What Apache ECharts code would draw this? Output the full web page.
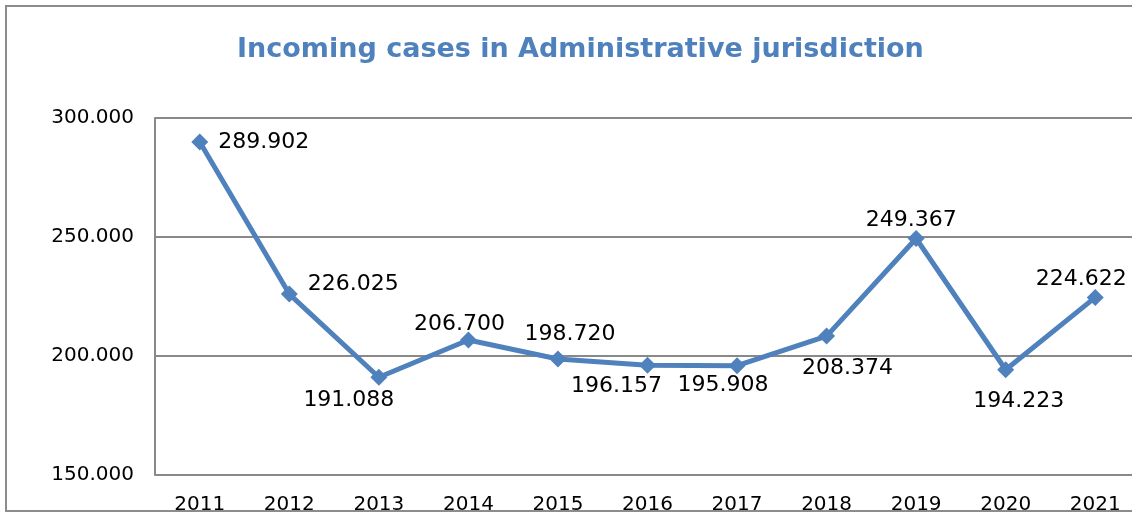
<!DOCTYPE html>
<html>
<head>
    <title>Incoming cases in Administrative jurisdiction</title>
    <script src="https://cdn.jsdelivr.net/npm/echarts@6.0.0/dist/echarts.min.js"></script>
    <style>
        html, body { margin: 0; padding: 0; background: #fff; }
    </style>
</head>
<body>
    <div id="chart" style="width: 1132px; height: 513px;"></div>
    <script>
        // data
        var years = ['2011', '2012', '2013', '2014', '2015', '2016', '2017', '2018', '2019', '2020', '2021'];
        var cases = [289902, 226025, 191088, 206700, 198720, 196157, 195908, 208374, 249367, 194223, 224622];
        // where each value label sits relative to its marker
        var labelPos = ['right', 'right', 'bottom', 'top', 'top', 'bottom', 'bottom', 'bottom', 'top', 'bottom', 'top'];
        var labelOffset = [[10, 0], [10, -10], [-30, -7], [-9, 15], [12, 6], [-31, -9], [-14, -11], [21, 2], [-5, 12], [13, 1], [-14, 12]];

        var blue = '#4F81BD';

        // 289902 -> "289.902"
        function fmt(v) {
            return String(v).replace(/\B(?=(\d{3})+(?!\d))/g, '.');
        }

        var chart = echarts.init(document.querySelector('#chart'));

        var option = {
          animation: false,
          textStyle: { fontFamily: 'DejaVu Sans' },
          title: {
            text: 'Incoming cases in Administrative jurisdiction',
            left: 232,
            top: 16,
            textStyle: { color: blue, fontSize: 27, fontWeight: 'bold', fontFamily: 'DejaVu Sans' }
          },
          graphic: [{
            type: 'rect',
            shape: { x: 6, y: 6, width: 1140, height: 505 },
            style: { fill: 'none', stroke: '#8c8c8c', lineWidth: 2 },
            z: -1
          }],
          grid: { left: 155, top: 118, width: 985, height: 357, outerBoundsMode: 'none' },
          xAxis: {
            type: 'category',
            data: years,
            axisLine: { show: false },
            axisTick: { show: false },
            axisLabel: { color: '#000', fontSize: 20, margin: 10 }
          },
          yAxis: {
            type: 'value',
            min: 150000,
            max: 300000,
            interval: 50000,
            axisLine: { show: true, lineStyle: { color: '#898989', width: 2 } },
            axisTick: { show: false },
            splitLine: { lineStyle: { color: '#898989', width: 2 } },
            axisLabel: { color: '#000', fontSize: 20, margin: 21, formatter: fmt }
          },
          series: [{
            type: 'line',
            data: cases.map(function (v, i) {
              return {
                value: v,
                label: { position: labelPos[i], offset: labelOffset[i] }
              };
            }),
            symbol: 'diamond',
            symbolSize: 17,
            itemStyle: { color: blue },
            lineStyle: { color: blue, width: 5 },
            label: {
              show: true,
              color: '#000',
              fontSize: 22,
              distance: 0,
              formatter: function (p) { return fmt(p.value); }
            }
          }]
        };
        chart.setOption(option);
    </script>
</body>
</html>
